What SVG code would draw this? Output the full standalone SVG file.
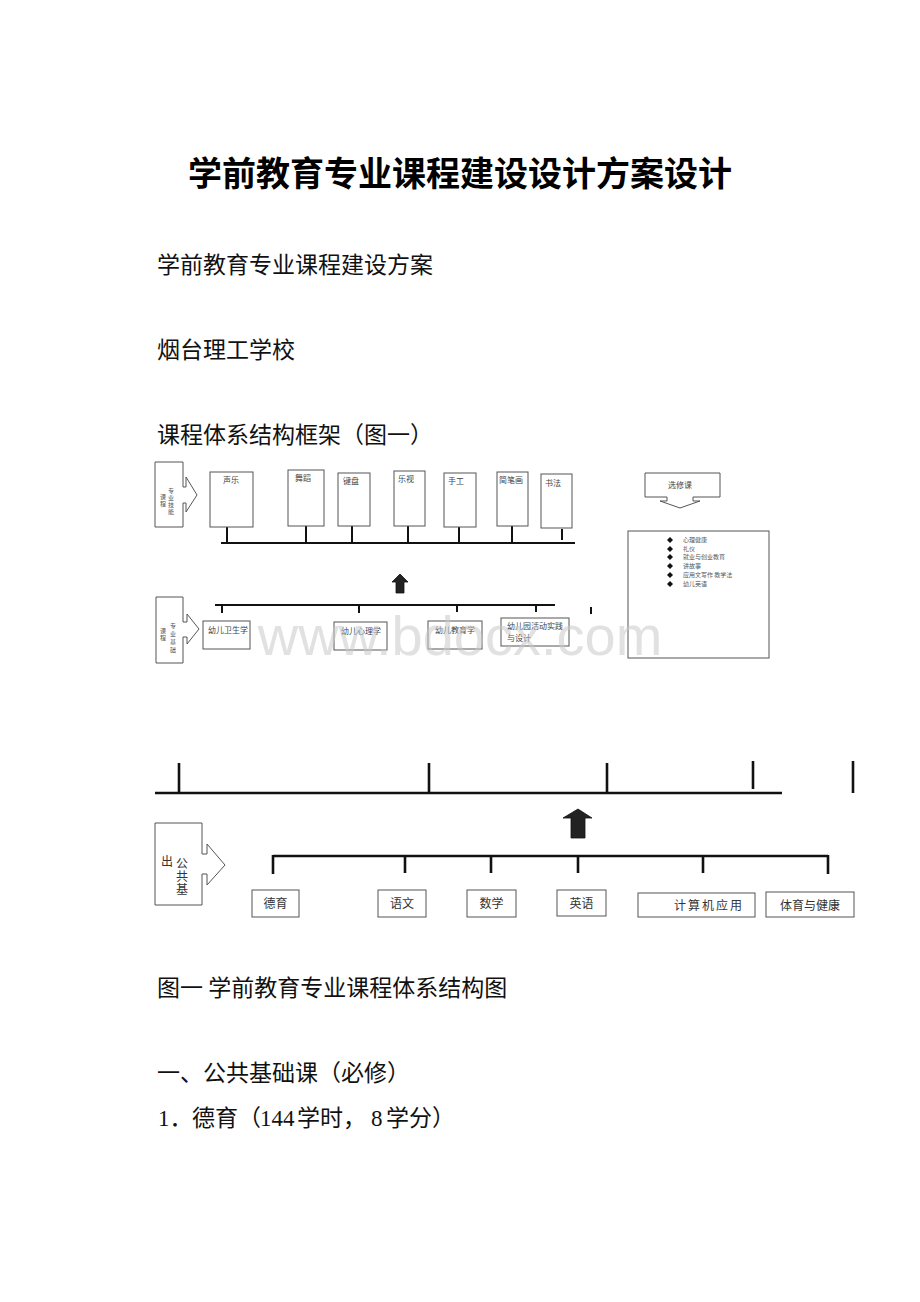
<svg xmlns="http://www.w3.org/2000/svg" width="920" height="1302" viewBox="0 0 920 1302">
<style>
.doc{font-family:"Noto Sans CJK SC","Liberation Sans",sans-serif;fill:#111;font-size:23px}
.title{font-family:"Noto Sans CJK SC","Liberation Sans",sans-serif;font-weight:bold;font-size:34px;fill:#000}
.ser{font-family:"Liberation Serif","Noto Sans CJK SC",serif}
.box{fill:none;stroke:#555;stroke-width:1}
.lbl{font-family:"Noto Sans CJK SC","Liberation Sans",sans-serif;fill:#444;font-size:8px}
.tiny{font-family:"Noto Sans CJK SC","Liberation Sans",sans-serif;fill:#555;font-size:6px}
.blbl{font-family:"Noto Sans CJK SC","Liberation Sans",sans-serif;fill:#333;font-size:12px}
.bus{stroke:#111;stroke-width:2;fill:none}
.bus3{stroke:#111;stroke-width:2.6;fill:none}
.arr{fill:#222;stroke:#111;stroke-width:0.8}
</style>
<rect width="920" height="1302" fill="#fff"/>

<g id="texts">
<text class="title" x="188" y="186">学前教育专业课程建设设计方案设计</text>
<text class="doc" x="157" y="273">学前教育专业课程建设方案</text>
<text class="doc" x="157" y="358">烟台理工学校</text>
<text class="doc" x="157" y="443">课程体系结构框架（图一）</text>
<text class="doc" x="157" y="996">图一 学前教育专业课程体系结构图</text>
<text class="doc" x="157" y="1081">一、公共基础课（必修）</text>
<text class="doc" y="1126"><tspan class="ser" x="158">1．</tspan><tspan x="192">德育（</tspan><tspan class="ser" x="260">144</tspan><tspan x="297">学时，</tspan><tspan class="ser" x="371">8</tspan><tspan x="386">学分）</tspan></text>
</g>

<g id="connectors">
<!-- skill bus -->
<line class="bus" x1="221" y1="543" x2="575" y2="543"/>
<line class="bus" x1="227" y1="527" x2="227" y2="543"/>
<line class="bus" x1="306" y1="526" x2="306" y2="543"/>
<line class="bus" x1="352" y1="526" x2="352" y2="543"/>
<line class="bus" x1="408" y1="526" x2="408" y2="543"/>
<line class="bus" x1="459" y1="527" x2="459" y2="543"/>
<line class="bus" x1="512" y1="526" x2="512" y2="543"/>
<line class="bus" x1="562" y1="529" x2="562" y2="540"/>
<!-- small up arrow -->
<path class="arr" d="M400,574 L408,582 L404,582 L404,593 L396,593 L396,582 L392,582 Z"/>
<!-- foundation bus -->
<line class="bus" x1="215" y1="605" x2="555" y2="605"/>
<line class="bus" x1="222" y1="605" x2="222" y2="613"/>
<line class="bus" x1="359" y1="605" x2="359" y2="613"/>
<line class="bus" x1="457" y1="605" x2="457" y2="612"/>
<line class="bus" x1="536" y1="605" x2="536" y2="612"/>
<line class="bus" x1="591" y1="607" x2="591" y2="614"/>
<!-- big top bus -->
<line class="bus3" x1="155" y1="793" x2="782" y2="793"/>
<line class="bus3" x1="179" y1="763" x2="179" y2="793"/>
<line class="bus3" x1="429" y1="763" x2="429" y2="793"/>
<line class="bus3" x1="607" y1="763" x2="607" y2="793"/>
<line class="bus3" x1="753" y1="761" x2="753" y2="789"/>
<line class="bus3" x1="853" y1="761" x2="853" y2="793"/>
<!-- big up arrow -->
<path class="arr" d="M578,809 L592,818 L585,818 L585,838 L571,838 L571,818 L563,818 Z"/>
<!-- lower bus -->
<line class="bus3" x1="273" y1="856" x2="828" y2="856"/>
<line class="bus3" x1="273" y1="855" x2="273" y2="874"/>
<line class="bus3" x1="405" y1="856" x2="405" y2="873"/>
<line class="bus3" x1="491" y1="856" x2="491" y2="873"/>
<line class="bus3" x1="578" y1="856" x2="578" y2="873"/>
<line class="bus3" x1="703" y1="856" x2="703" y2="873"/>
<line class="bus3" x1="828" y1="855" x2="828" y2="874"/>
</g>

<g id="side-skill">
<path class="box" d="M155,462 L183,462 L183,487 L186,487 L186,477 L197,495 L186,512 L186,503 L183,503 L183,527 L155,527 Z"/>
<text class="tiny" x="171" y="493" text-anchor="middle">专</text>
<text class="tiny" x="171" y="500" text-anchor="middle">业</text>
<text class="tiny" x="171" y="507" text-anchor="middle">技</text>
<text class="tiny" x="171" y="514" text-anchor="middle">能</text>
<text class="tiny" x="163" y="499" text-anchor="middle" font-size="4">课</text>
<text class="tiny" x="163" y="506" text-anchor="middle" font-size="4">程</text>
</g>

<g id="skill-shengyue"><rect class="box" x="210" y="472" width="43" height="55"/><text class="lbl" x="223" y="483">声乐</text></g>
<g id="skill-wudao"><rect class="box" x="288" y="470" width="36" height="56"/><text class="lbl" x="295" y="481">舞蹈</text></g>
<g id="skill-jianpan"><rect class="box" x="338" y="473" width="32" height="53"/><text class="lbl" x="343" y="484">键盘</text></g>
<g id="skill-leshi"><rect class="box" x="394" y="471" width="31" height="55"/><text class="lbl" x="398" y="482">乐视</text></g>
<g id="skill-shougong"><rect class="box" x="444" y="473" width="32" height="54"/><text class="lbl" x="448" y="484">手工</text></g>
<g id="skill-jianbihua"><rect class="box" x="497" y="472" width="31" height="54"/><text class="lbl" x="499" y="483">简笔画</text></g>
<g id="skill-shufa"><rect class="box" x="541" y="474" width="31" height="54"/><text class="lbl" x="545" y="486">书法</text></g>

<g id="elective">
<path class="box" d="M645,473 L720,473 L720,497 L693,497 L693,501 L700,501 L680,508 L660,501 L667,501 L667,497 L645,497 Z"/>
<text class="lbl" x="680" y="488" text-anchor="middle">选修课</text>
</g>

<g id="elective-list">
<rect class="box" x="628" y="531" width="141" height="127"/>
<g fill="#111">
<path d="M670,537 L673,540 L670,543 L667,540 Z"/>
<path d="M670,546 L673,549 L670,552 L667,549 Z"/>
<path d="M670,554 L673,557 L670,560 L667,557 Z"/>
<path d="M670,563 L673,566 L670,569 L667,566 Z"/>
<path d="M670,572 L673,575 L670,578 L667,575 Z"/>
<path d="M670,581 L673,584 L670,587 L667,584 Z"/>
</g>
<text class="tiny" x="683" y="542">心理健康</text>
<text class="tiny" x="683" y="551">礼仪</text>
<text class="tiny" x="683" y="559">就业与创业教育</text>
<text class="tiny" x="683" y="568">讲故事</text>
<text class="tiny" x="683" y="577">应用文写作 教学法</text>
<text class="tiny" x="683" y="586">幼儿英语</text>
</g>

<g id="side-foundation">
<path class="box" d="M156,597 L183,597 L183,622 L187,622 L187,614 L199,629 L187,644 L187,637 L183,637 L183,663 L156,663 Z"/>
<text class="tiny" x="173" y="628" text-anchor="middle">专</text>
<text class="tiny" x="173" y="636" text-anchor="middle">业</text>
<text class="tiny" x="173" y="644" text-anchor="middle">基</text>
<text class="tiny" x="173" y="652" text-anchor="middle">础</text>
<text class="tiny" x="163" y="633" text-anchor="middle" font-size="4">课</text>
<text class="tiny" x="163" y="640" text-anchor="middle" font-size="4">程</text>
</g>

<g id="f-weisheng"><rect class="box" x="203" y="621" width="47" height="28"/><text class="lbl" x="208" y="633">幼儿卫生学</text></g>
<g id="f-xinli"><rect class="box" x="334" y="622" width="53" height="28"/><text class="lbl" x="341" y="634">幼儿心理学</text></g>
<g id="f-jiaoyu"><rect class="box" x="428" y="621" width="54" height="28"/><text class="lbl" x="435" y="633">幼儿教育学</text></g>
<g id="f-huodong"><rect class="box" x="501" y="618" width="68" height="28"/><text class="lbl" x="507" y="629">幼儿园活动实践</text><text class="lbl" x="507" y="641">与设计</text></g>

<g id="side-public">
<path class="box" d="M155,823 L202,823 L202,854 L207,854 L207,844 L225,865 L207,885 L207,874 L202,874 L202,905 L155,905 Z"/>
<text class="blbl" x="182" y="868" text-anchor="middle" font-size="11">公</text>
<text class="blbl" x="182" y="881" text-anchor="middle" font-size="11">共</text>
<text class="blbl" x="182" y="894" text-anchor="middle" font-size="11">基</text>
<text class="blbl" x="167" y="866" text-anchor="middle" font-size="8">出</text>
</g>

<g id="p-deyu"><rect class="box" x="252" y="890" width="47" height="27"/><text class="blbl" x="275.5" y="908" text-anchor="middle">德育</text></g>
<g id="p-yuwen"><rect class="box" x="378" y="890" width="48" height="27"/><text class="blbl" x="402" y="908" text-anchor="middle">语文</text></g>
<g id="p-shuxue"><rect class="box" x="467" y="890" width="49" height="27"/><text class="blbl" x="491.5" y="908" text-anchor="middle">数学</text></g>
<g id="p-yingyu"><rect class="box" x="557" y="890" width="49" height="26"/><text class="blbl" x="581.5" y="908" text-anchor="middle">英语</text></g>
<g id="p-jisuanji"><rect class="box" x="638" y="893" width="117" height="24"/><text class="blbl" x="674" y="910" letter-spacing="2">计算机应用</text></g>
<g id="p-tiyu"><rect class="box" x="766" y="892" width="88" height="25"/><text class="blbl" x="810" y="910" text-anchor="middle">体育与健康</text></g>

<text x="460" y="655" text-anchor="middle" font-family="Liberation Sans, sans-serif" font-size="56" fill="#c8c8c8" fill-opacity="0.55">www.bdocx.com</text>
</svg>
